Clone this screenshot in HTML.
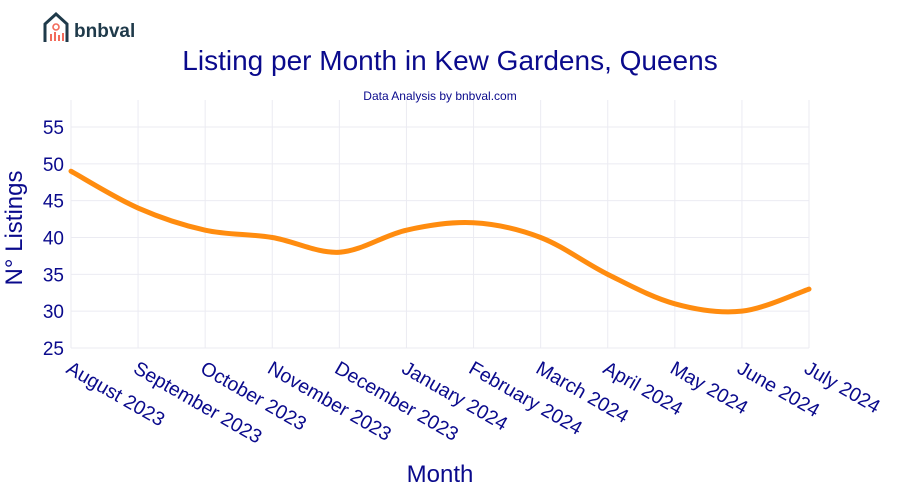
<!DOCTYPE html>
<html><head><meta charset="utf-8"><style>
body{margin:0;background:#fff;}
svg{display:block;font-family:"Liberation Sans",Arial,sans-serif;}
</style></head><body>
<svg width="900" height="500" viewBox="0 0 900 500">
<g>
<path d="M45 42 V24 L56 14 L67 24 V42" fill="none" stroke="#1f3a4a" stroke-width="3"/>
<circle cx="56" cy="27" r="3" fill="none" stroke="#f26b5b" stroke-width="1.6"/>
<rect x="50" y="34" width="2" height="7" fill="#f26b5b"/><rect x="54" y="32" width="2" height="9" fill="#f26b5b"/><rect x="58" y="35" width="2" height="6" fill="#f26b5b"/><rect x="62" y="33" width="2" height="8" fill="#f26b5b"/>
<text x="74" y="37" font-size="19" font-weight="bold" fill="#1f3a4a">bnbval</text>
</g>
<text x="450" y="70" text-anchor="middle" font-size="28" fill="#0a0a8c">Listing per Month in Kew Gardens, Queens</text>
<text x="440" y="100" text-anchor="middle" font-size="12" fill="#0a0a8c">Data Analysis by bnbval.com</text>
<g id="grid"></g>
<g id="ylabels"></g>
<g id="xlabels"></g>
<path id="line" fill="none" stroke="#ff8c0f" stroke-width="5" stroke-linecap="round"/>
<text x="0" y="0" transform="translate(22,228) rotate(-90)" text-anchor="middle" font-size="24" fill="#0a0a8c">N° Listings</text>
<text x="440" y="482" text-anchor="middle" font-size="24" fill="#0a0a8c">Month</text>
</svg>
<script>
const months=["August 2023","September 2023","October 2023","November 2023","December 2023","January 2024","February 2024","March 2024","April 2024","May 2024","June 2024","July 2024"];
const listings=[49,44,41,40,38,41,42,40,35,31,30,33];
const yTicks=[25,30,35,40,45,50,55];
const NS="http://www.w3.org/2000/svg";
const x0=71,x1=809,yTop=100,yBot=348;
function X(i){return x0+(x1-x0)*i/(months.length-1);}
function Y(v){return 348-(v-25)*(221/30);}
const grid=document.getElementById('grid'),yl=document.getElementById('ylabels'),xl=document.getElementById('xlabels');
yTicks.forEach(t=>{
 const l=document.createElementNS(NS,'line');
 
 
 l.setAttribute('x1',x0);l.setAttribute('x2',x1);l.setAttribute('y1',Y(t));l.setAttribute('y2',Y(t));
 l.setAttribute('stroke','#ebebf2');l.setAttribute('stroke-width','1');grid.appendChild(l);
 const tx=document.createElementNS(NS,'text');
 
 
 tx.setAttribute('x',64);tx.setAttribute('y',Y(t)+7);tx.setAttribute('text-anchor','end');
 tx.setAttribute('font-size','19');tx.setAttribute('fill','#0a0a8c');tx.textContent=t;yl.appendChild(tx);
});
months.forEach((m,i)=>{
 const l=document.createElementNS(NS,'line');
 
 
 l.setAttribute('x1',X(i));l.setAttribute('x2',X(i));l.setAttribute('y1',yTop);l.setAttribute('y2',yBot);
 l.setAttribute('stroke','#ebebf2');l.setAttribute('stroke-width','1');grid.appendChild(l);
 const tx=document.createElementNS(NS,'text');
 
 
 tx.setAttribute('transform','translate('+(X(i)-6)+',372) rotate(30)');
 tx.setAttribute('font-size','19.5');tx.setAttribute('fill','#0a0a8c');tx.textContent=m;xl.appendChild(tx);
});
const pts=listings.map((v,i)=>[X(i),Y(v)]);
let d='M'+pts[0][0]+','+pts[0][1];
for(let i=0;i<pts.length-1;i++){
 const p0=pts[Math.max(0,i-1)],p1=pts[i],p2=pts[i+1],p3=pts[Math.min(pts.length-1,i+2)];
 const t=6;
 d+=' C'+(p1[0]+(p2[0]-p0[0])/t)+','+(p1[1]+(p2[1]-p0[1])/t)+' '+(p2[0]-(p3[0]-p1[0])/t)+','+(p2[1]-(p3[1]-p1[1])/t)+' '+p2[0]+','+p2[1];
}
document.getElementById('line').setAttribute('d',d);
</script>
</body></html>
